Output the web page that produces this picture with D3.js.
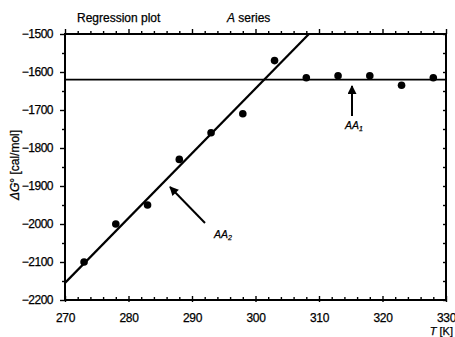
<!DOCTYPE html>
<html>
<head>
<meta charset="utf-8">
<script src="https://cdn.jsdelivr.net/npm/d3@7"></script>
<style>
  html, body { margin: 0; padding: 0; background: #fff; }
  svg { display: block; font-family: "Liberation Sans", Arial, Helvetica, sans-serif; }
  text { fill: #000; stroke: #000; stroke-width: 0.25px; }
</style>
</head>
<body>
<svg id="chart" width="455" height="337"></svg>
<script>
// Temperatures (K) and measured free energies (cal/mol)
const temperatures = [273, 278, 283, 288, 293, 298, 303, 308, 313, 318, 323, 328];
const deltaG = [-2100, -2000, -1950, -1830, -1760, -1710, -1570, -1615, -1610, -1610, -1635, -1615];

// Regression lines: AA2 (sloped), AA1 (constant)
const lineAA2 = { t0: 270, g0: -2155, slope: 17.05 };
const lineAA1 = { g: -1620 };

// Axis ticks
const xTickLabels = [270, 280, 290, 300, 310, 320, 330];
const yTickLabels = [-1500, -1600, -1700, -1800, -1900, -2000, -2100, -2200];

const svg = d3.select("#chart");
const margin = { left: 65, right: 9, top: 34, bottom: 37 };
const W = 455, H = 337;

const x = d3.scaleLinear().domain([270, 330]).range([margin.left, W - margin.right]);
const y = d3.scaleLinear().domain([-2200, -1500]).range([H - margin.bottom, margin.top]);

const minorX = d3.range(270, 331, 2);
const minorY = d3.range(-2200, -1499, 50);

// Top axis: ticks outward
svg.append("g").attr("transform", `translate(0,${y(-1500)})`)
  .call(d3.axisTop(x).tickValues(minorX).tickSize(3).tickFormat(""))
  .call(g => g.selectAll(".tick line").attr("stroke-width", 1.4)
    .attr("y2", d => d % 10 === 0 ? -5 : -3));

// Bottom axis: ticks inward, labels every 10
svg.append("g").attr("transform", `translate(0,${y(-2200)})`)
  .call(d3.axisBottom(x).tickValues(minorX).tickSize(-3).tickFormat(""))
  .call(g => g.selectAll(".tick line").attr("stroke-width", 1.4)
    .attr("y2", d => d % 10 === 0 ? -4 : -3).attr("y1", d => d % 10 === 0 ? 2 : 0));
svg.append("g").attr("transform", `translate(0,${y(-2200)})`)
  .call(d3.axisBottom(x).tickValues(xTickLabels).tickSize(0).tickPadding(13).tickFormat(d3.format("d")))
  .call(g => g.select(".domain").remove())
  .call(g => g.selectAll("text").attr("font-size", 12).attr("font-family", "Liberation Sans, Arial, sans-serif").attr("letter-spacing", -0.4));

// Left axis: ticks outward
svg.append("g").attr("transform", `translate(${x(270)},0)`)
  .call(d3.axisLeft(y).tickValues(minorY).tickSize(3).tickFormat(""))
  .call(g => g.selectAll(".tick line").attr("stroke-width", 1.4)
    .attr("x2", d => d % 100 === 0 ? -5 : -3));
svg.append("g").attr("transform", `translate(${x(270)},0)`)
  .call(d3.axisLeft(y).tickValues(yTickLabels).tickSize(0).tickPadding(12).tickFormat(d3.format("d")))
  .call(g => g.select(".domain").remove())
  .call(g => g.selectAll("text").attr("font-size", 12).attr("font-family", "Liberation Sans, Arial, sans-serif").attr("letter-spacing", -0.5));

// Right axis: ticks inward
svg.append("g").attr("transform", `translate(${x(330)},0)`)
  .call(d3.axisRight(y).tickValues(minorY).tickSize(-3).tickFormat(""))
  .call(g => g.selectAll(".tick line").attr("stroke-width", 1.4));

svg.selectAll(".domain").attr("stroke", "none");

// Frame
svg.append("rect")
  .attr("x", x(270)).attr("y", y(-1500))
  .attr("width", x(330) - x(270)).attr("height", y(-2200) - y(-1500))
  .attr("fill", "none").attr("stroke", "#000").attr("stroke-width", 2);

// Clip for regression lines
svg.append("clipPath").attr("id", "plotclip").append("rect")
  .attr("x", x(270)).attr("y", y(-1500))
  .attr("width", x(330) - x(270)).attr("height", y(-2200) - y(-1500));

const plot = svg.append("g").attr("clip-path", "url(#plotclip)");

// AA1 horizontal line
plot.append("line")
  .attr("x1", x(270)).attr("x2", x(330))
  .attr("y1", y(lineAA1.g)).attr("y2", y(lineAA1.g))
  .attr("stroke", "#000").attr("stroke-width", 1.8);

// AA2 sloped line, ends at top border
const tEnd = lineAA2.t0 + (-1500 - lineAA2.g0) / lineAA2.slope;
plot.append("line")
  .attr("x1", x(lineAA2.t0)).attr("y1", y(lineAA2.g0))
  .attr("x2", x(tEnd)).attr("y2", y(-1500))
  .attr("stroke", "#000").attr("stroke-width", 2.2);

// Data points
svg.append("g").selectAll("circle")
  .data(temperatures.map((t, i) => [t, deltaG[i]]))
  .join("circle")
  .attr("cx", d => x(d[0])).attr("cy", d => y(d[1]))
  .attr("r", 3.8).attr("fill", "#000");

// Arrow marker
const defs = svg.append("defs");
defs.append("marker").attr("id", "head")
  .attr("viewBox", "0 0 10 10").attr("refX", 9).attr("refY", 5)
  .attr("markerWidth", 13).attr("markerHeight", 9).attr("markerUnits", "userSpaceOnUse")
  .attr("orient", "auto")
  .append("path").attr("d", "M0,0 L10,5 L0,10 Z").attr("fill", "#000");

// AA1 arrow and label
svg.append("line").attr("x1", 352).attr("y1", 116).attr("x2", 352).attr("y2", 86)
  .attr("stroke", "#000").attr("stroke-width", 2).attr("marker-end", "url(#head)");
const l1 = svg.append("text").attr("x", 345).attr("y", 129).attr("font-size", 10.5)
  .attr("font-style", "italic");
l1.append("tspan").text("AA");
l1.append("tspan").attr("font-size", 7).attr("dy", 2).text("1");

// AA2 arrow and label
svg.append("line").attr("x1", 205).attr("y1", 223).attr("x2", 170).attr("y2", 187)
  .attr("stroke", "#000").attr("stroke-width", 2).attr("marker-end", "url(#head)");
const l2 = svg.append("text").attr("x", 214).attr("y", 238).attr("font-size", 10.5)
  .attr("font-style", "italic");
l2.append("tspan").text("AA");
l2.append("tspan").attr("font-size", 7).attr("dy", 2).text("2");

// Titles
svg.append("text").attr("x", 77).attr("y", 22).attr("font-size", 12).text("Regression plot");
const t2 = svg.append("text").attr("x", 227).attr("y", 22).attr("font-size", 12);
t2.append("tspan").attr("font-style", "italic").text("A");
t2.append("tspan").text(" series");

// Y axis title
const yt = svg.append("text").attr("transform", "translate(19,165) rotate(-90)")
  .attr("text-anchor", "middle").attr("font-size", 12);
yt.append("tspan").attr("font-style", "italic").text("ΔG");
yt.append("tspan").text("° [cal/mol]");

// X axis title
const xt = svg.append("text").attr("x", 453).attr("y", 335).attr("text-anchor", "end").attr("font-size", 11);
xt.append("tspan").attr("font-style", "italic").text("T");
xt.append("tspan").text(" [K]");
</script>
</body>
</html>
